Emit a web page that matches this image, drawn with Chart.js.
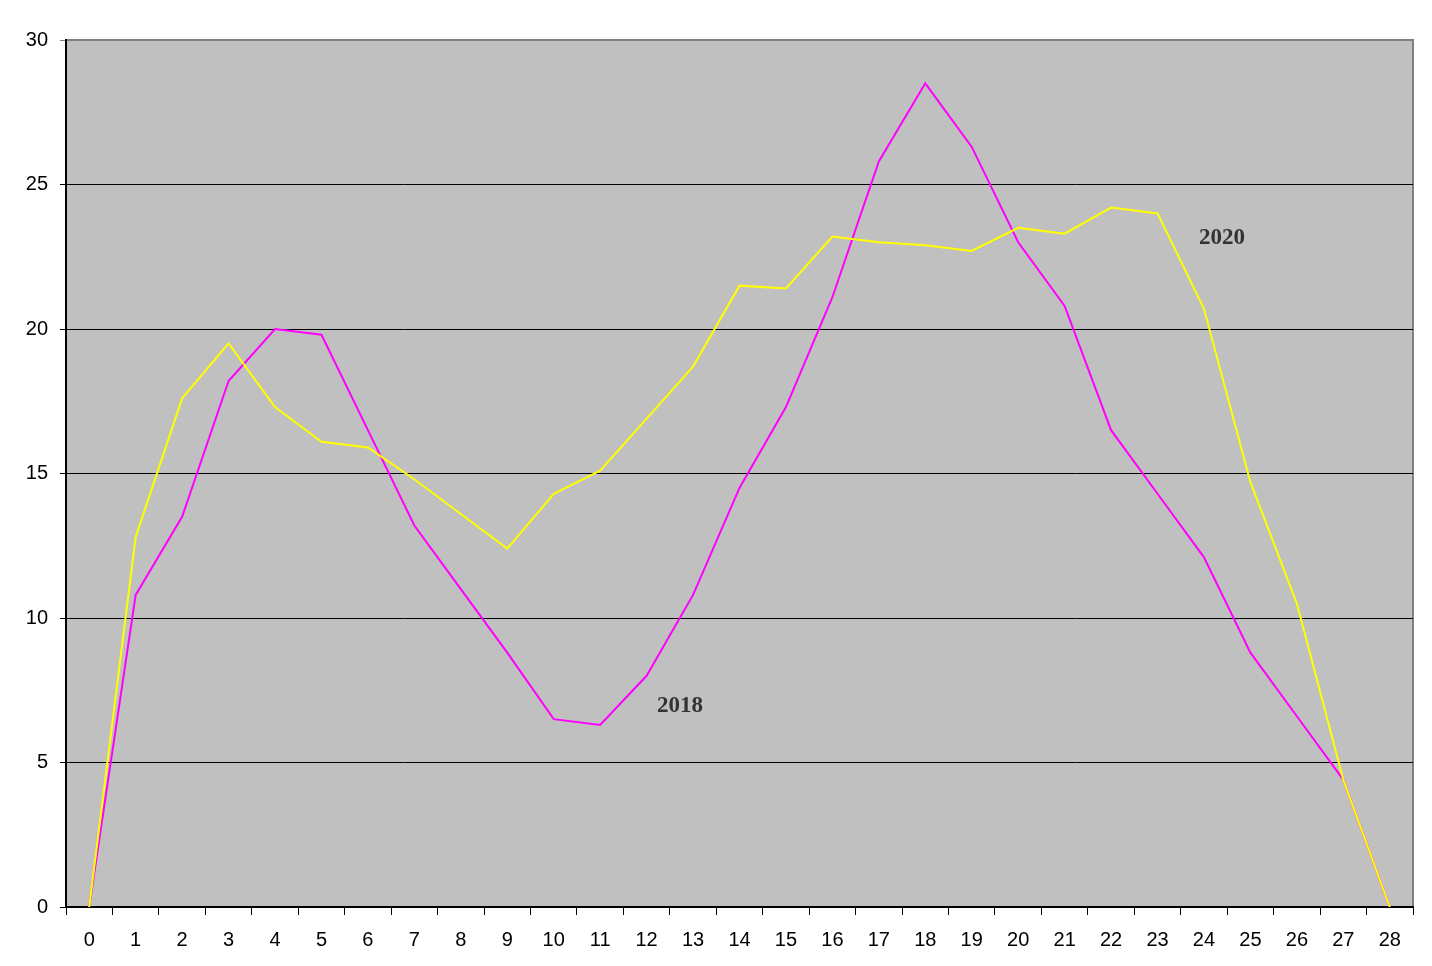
<!DOCTYPE html>
<html>
<head>
<meta charset="utf-8">
<script src="https://cdn.jsdelivr.net/npm/chart.js@4/dist/chart.umd.min.js"></script>
<style>
  html, body { margin: 0; padding: 0; background: #fff; }
  #wrap { width: 1432px; height: 966px; position: relative; }
</style>
</head>
<body>
<div id="wrap"><canvas id="c"></canvas></div>
<script>
// categories 0..28
const labels = ['0','1','2','3','4','5','6','7','8','9','10','11','12','13','14','15','16','17','18','19','20','21','22','23','24','25','26','27','28'];

// values
const values2018 = [0, 10.8, 13.5, 18.2, 20.0, 19.8, 16.5, 13.2, 11.0, 8.8, 6.5, 6.3, 8.0, 10.8, 14.5, 17.3, 21.1, 25.8, 28.5, 26.3, 23.0, 20.8, 16.5, 14.3, 12.1, 8.8, 6.6, 4.4, 0];
const values2020 = [0, 12.8, 17.6, 19.5, 17.3, 16.1, 15.9, 14.8, 13.6, 12.4, 14.3, 15.1, 16.9, 18.7, 21.5, 21.4, 23.2, 23.0, 22.9, 22.7, 23.5, 23.3, 24.2, 24.0, 20.7, 14.7, 10.5, 4.4, 0];

const yTicks = [0, 5, 10, 15, 20, 25, 30];

// series labels placed inside the plot (category position, value)
const seriesNotes = [
  { text: '2018', at: 12.72, value: 6.95 },
  { text: '2020', at: 24.39, value: 23.15 }
];

// grey plot area with grey top/right frame
const plotBackground = {
  id: 'plotBackground',
  beforeDraw(chart) {
    const { ctx, chartArea: a } = chart;
    ctx.save();
    ctx.fillStyle = '#C0C0C0';
    ctx.fillRect(a.left, a.top, a.right - a.left, a.bottom - a.top);
    ctx.strokeStyle = '#808080';
    ctx.lineWidth = 2;
    ctx.beginPath();
    ctx.moveTo(a.left, a.top);
    ctx.lineTo(a.right, a.top);
    ctx.lineTo(a.right, a.bottom);
    ctx.stroke();
    ctx.restore();
  }
};

const noteLabels = {
  id: 'noteLabels',
  afterDatasetsDraw(chart) {
    const { ctx } = chart;
    const xs = chart.scales.x, ys = chart.scales.y;
    ctx.save();
    ctx.font = 'bold 23px "Liberation Serif", "Times New Roman", serif';
    ctx.fillStyle = '#333333';
    ctx.textAlign = 'center';
    ctx.textBaseline = 'middle';
    seriesNotes.forEach(n => {
      ctx.fillText(n.text, xs.getPixelForValue(n.at), ys.getPixelForValue(n.value));
    });
    ctx.restore();
  }
};

new Chart(document.getElementById('c'), {
  type: 'line',
  data: {
    labels: labels,
    datasets: [
      {
        label: '2020',
        data: values2020,
        borderColor: '#FFFF00',
        borderWidth: 2,
        pointRadius: 0,
        tension: 0,
        fill: false
      },
      {
        label: '2018',
        data: values2018,
        borderColor: '#FF00FF',
        borderWidth: 2,
        pointRadius: 0,
        tension: 0,
        fill: false
      }
    ]
  },
  options: {
    responsive: true,
    maintainAspectRatio: false,
    animation: false,
    layout: { padding: { top: 40, right: 19, left: 0, bottom: 0 } },
    plugins: {
      legend: { display: false },
      tooltip: { enabled: false }
    },
    scales: {
      x: {
        type: 'category',
        offset: true,
        border: { color: '#000000', width: 2 },
        grid: {
          offset: true,
          drawOnChartArea: false,
          color: '#000000',
          tickLength: 8
        },
        ticks: {
          color: '#000000',
          padding: 13,
          maxRotation: 0,
          autoSkip: false,
          font: { family: '"Liberation Sans", Arial, sans-serif', size: 20 }
        },
        afterFit(scale) { scale.height = 59; }
      },
      y: {
        min: 0,
        max: 30,
        afterBuildTicks(scale) { scale.ticks = yTicks.map(v => ({ value: v })); },
        border: { color: '#000000', width: 2 },
        grid: {
          color: ctx => (ctx.tick && ctx.tick.value === 30 ? '#808080' : '#000000'),
          lineWidth: 1,
          tickLength: 6
        },
        ticks: {
          color: '#000000',
          padding: 12,
          font: { family: '"Liberation Sans", Arial, sans-serif', size: 20 }
        },
        afterFit(scale) { scale.width = 66; }
      }
    }
  },
  plugins: [plotBackground, noteLabels]
});
</script>
</body>
</html>
